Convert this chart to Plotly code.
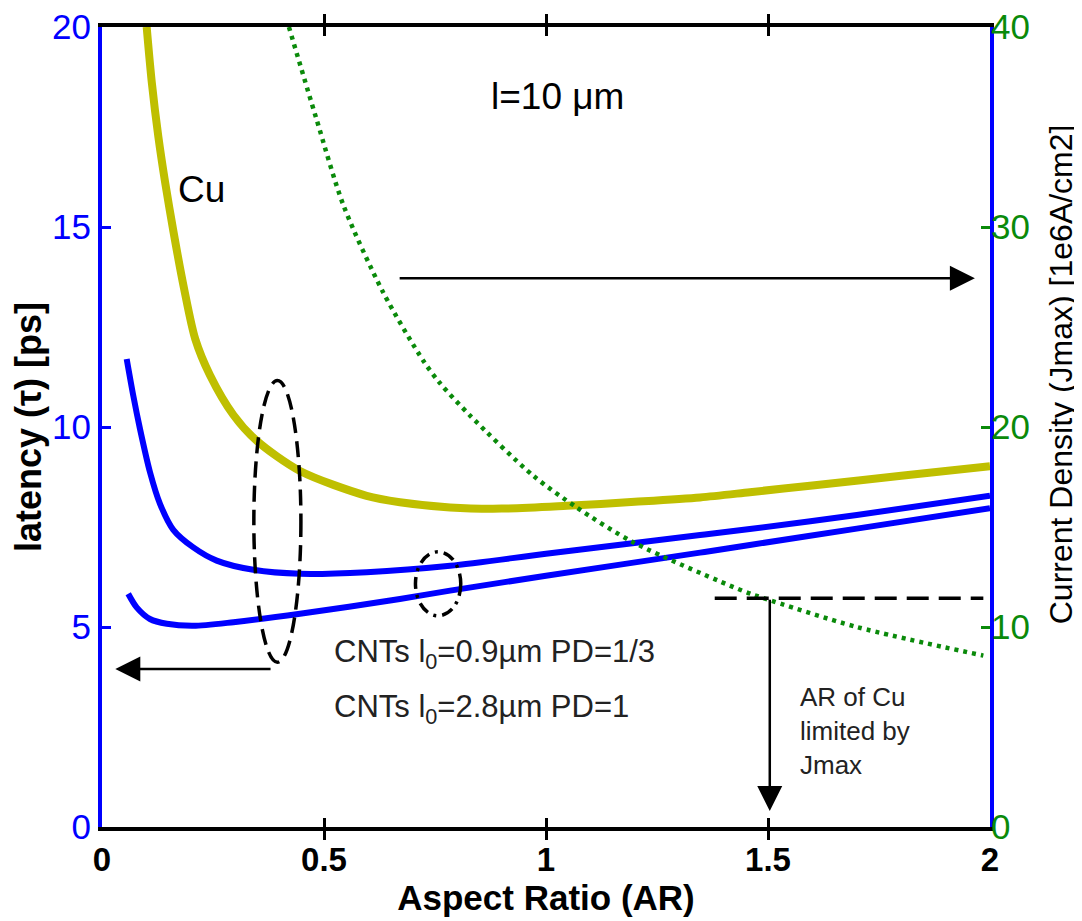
import plotly.graph_objects as go

# ---------------- data ----------------
# Cu latency [ps] vs aspect ratio
cu_ar = [0.1006, 0.112, 0.127, 0.142, 0.161, 0.185, 0.21, 0.243, 0.296, 0.348, 0.446,
         0.596, 0.671, 0.784, 0.90, 1.047, 1.20, 1.347, 1.459, 1.60, 1.80, 2.00]
cu_lat = [20.0, 18.63, 17.25, 16.13, 14.88, 13.45, 12.2, 11.3, 10.3, 9.66, 8.9,
          8.28, 8.12, 7.99, 7.96, 8.03, 8.13, 8.24, 8.37, 8.54, 8.78, 9.02]

# CNT latency, l0 = 0.9 um, PD = 1/3 (upper blue)
cnt1_ar = [0.0556, 0.0705, 0.0856, 0.1081, 0.1306, 0.1606, 0.2057, 0.2583, 0.3408,
           0.4459, 0.596, 0.784, 1.00, 1.347, 1.459, 1.70, 2.00]
cnt1_lat = [11.7, 10.78, 9.95, 8.87, 8.08, 7.43, 6.99, 6.66, 6.43,
            6.33, 6.37, 6.53, 6.83, 7.30, 7.45, 7.80, 8.28]

# CNT latency, l0 = 2.8 um, PD = 1 (lower blue)
cnt2_ar = [0.059, 0.078, 0.108, 0.146, 0.206, 0.296, 0.446, 0.671, 0.784, 1.00,
           1.347, 1.459, 1.70, 2.00]
cnt2_lat = [5.83, 5.49, 5.20, 5.08, 5.03, 5.12, 5.33, 5.70, 5.91, 6.28,
            6.86, 7.05, 7.46, 7.97]

# Cu maximum current density Jmax [1e6 A/cm2] (right axis)
j_ar = [0.421, 0.483, 0.544, 0.634, 0.724, 0.761, 0.829, 0.971, 1.069,
        1.197, 1.444, 1.489, 1.70, 1.985]
j_max = [40.0, 35.4, 31.07, 26.7, 23.3, 22.2, 20.57, 17.57, 15.98,
         14.23, 11.8, 11.45, 10.0, 8.57]

x_ticks = [0, 0.5, 1, 1.5, 2]
x_ticktext = ["0", "0.5", "1", "1.5", "2"]
y_ticks = [0, 5, 10, 15, 20]
y2_ticks = [0, 10, 20, 30, 40]

FONT = "Liberation Sans, Arial, Helvetica, sans-serif"
BLUE = "#0000FF"
GREEN = "#0A8A0A"
OLIVE = "#BFBF00"

fig = go.Figure()
fig.add_trace(go.Scatter(x=cu_ar, y=cu_lat, mode="lines", name="Cu",
                         line=dict(color=OLIVE, width=8, shape="spline", smoothing=0.8)))
fig.add_trace(go.Scatter(x=cnt1_ar, y=cnt1_lat, mode="lines", name="CNT l0=0.9um PD=1/3",
                         line=dict(color=BLUE, width=6, shape="spline", smoothing=0.8)))
fig.add_trace(go.Scatter(x=cnt2_ar, y=cnt2_lat, mode="lines", name="CNT l0=2.8um PD=1",
                         line=dict(color=BLUE, width=6, shape="spline", smoothing=0.8)))
fig.add_trace(go.Scatter(x=j_ar, y=j_max, mode="lines", name="Jmax", yaxis="y2",
                         line=dict(color=GREEN, width=4.5, dash="4px,5px", shape="spline", smoothing=0.8)))

# ---------------- annotation shapes ----------------
shapes = [
    # big dashed ellipse around the curves at AR~0.4
    dict(type="circle", xref="x", yref="y", x0=0.342, x1=0.448, y0=4.12, y1=11.16,
         line=dict(color="black", width=3.5, dash="16px,8px")),
    # small dash-dot ellipse at AR~0.75
    dict(type="circle", xref="x", yref="y", x0=0.706, x1=0.808, y0=5.28, y1=6.88,
         line=dict(color="black", width=3.5, dash="12px,6px,3px,6px")),
    # dashed horizontal line at Jmax limit
    dict(type="line", xref="x", yref="y", x0=1.38, x1=1.985, y0=5.72, y1=5.72,
         line=dict(color="black", width=3.5, dash="22px,10px")),
]

ARW = dict(xref="x", yref="y", axref="x", ayref="y", text="", showarrow=True,
           arrowhead=2, arrowsize=2, arrowwidth=2.5, arrowcolor="black")
annotations = [
    dict(x=0.03, y=3.95, ax=0.383, ay=3.95, **ARW),
    dict(x=1.966, y=13.72, ax=0.667, ay=13.72, **ARW),
    dict(x=1.504, y=0.4, ax=1.504, ay=5.72, **ARW),
    dict(x=0.225, y=15.95, xref="x", yref="y", text="Cu", showarrow=False,
         font=dict(family=FONT, size=37, color="black")),
    dict(x=1.025, y=18.27, xref="x", yref="y", text="l=10 μm", showarrow=False,
         font=dict(family=FONT, size=37, color="black")),
    dict(x=0.518, y=4.33, xref="x", yref="y", xanchor="left",
         text="CNTs l<sub>0</sub>=0.9µm PD=1/3", showarrow=False,
         font=dict(family=FONT, size=31, color="#222222")),
    dict(x=0.518, y=2.95, xref="x", yref="y", xanchor="left",
         text="CNTs l<sub>0</sub>=2.8µm PD=1", showarrow=False,
         font=dict(family=FONT, size=31, color="#222222")),
    dict(x=1.568, y=2.4, xref="x", yref="y", xanchor="left", align="left",
         text="AR of Cu<br>limited by<br>Jmax", showarrow=False,
         font=dict(family=FONT, size=26, color="#222222")),
    # right axis title
    dict(x=1.0800, y=0.566, xref="paper", yref="paper", xanchor="center", yanchor="middle",
         text="Current Density (Jmax) [1e6A/cm2]", textangle=-90, showarrow=False,
         font=dict(family=FONT, size=32, color="black")),
]

# the page body adds an 8 px margin, so the figure is 16 px smaller than the window
fig.update_layout(
    width=1074, height=913,
    margin=dict(l=94, r=92, t=19, b=94, autoexpand=False),
    paper_bgcolor="white", plot_bgcolor="white",
    showlegend=False,
    font=dict(family=FONT, color="black"),
    shapes=shapes,
    annotations=annotations,
    xaxis=dict(
        range=[0, 2], tickvals=x_ticks, ticktext=x_ticktext, automargin=False,
        ticks="inside", ticklen=9, tickwidth=3, tickcolor="black",
        showline=True, linecolor="black", linewidth=4, mirror="allticks",
        showgrid=False, zeroline=False, ticklabeloverflow="allow",
        tickfont=dict(family=FONT, size=33, color="black", weight="bold"),
        title=dict(text="Aspect Ratio (AR)", standoff=2,
                   font=dict(family=FONT, size=35, color="black", weight="bold")),
    ),
    yaxis=dict(
        range=[0, 20], tickvals=y_ticks, automargin=False,
        ticks="inside", ticklen=9, tickwidth=3, tickcolor=BLUE,
        showline=True, linecolor=BLUE, linewidth=4, mirror="allticks",
        showgrid=False, zeroline=False, ticklabeloverflow="allow",
        tickfont=dict(family=FONT, size=35, color=BLUE),
        title=dict(text="latency (τ) [ps]", standoff=4,
                   font=dict(family=FONT, size=36, color="black", weight="bold")),
    ),
    yaxis2=dict(
        range=[0, 40], tickvals=y2_ticks, overlaying="y", side="right", automargin=False,
        ticks="inside", ticklen=9, tickwidth=3, tickcolor=GREEN,
        showline=False, showgrid=False, zeroline=False, ticklabeloverflow="allow",
        tickfont=dict(family=FONT, size=35, color=GREEN),
    ),
)

fig.write_html("out.html")
